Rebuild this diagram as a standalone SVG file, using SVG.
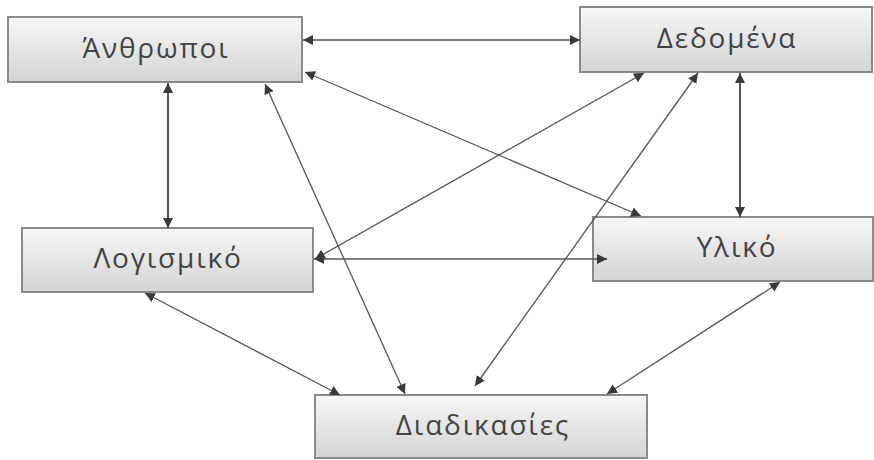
<svg xmlns="http://www.w3.org/2000/svg" width="874" height="460" viewBox="0 0 874 460">
<defs>
<linearGradient id="g" x1="0" y1="0" x2="0" y2="1">
<stop offset="0" stop-color="#f7f7f7"/>
<stop offset="1" stop-color="#d4d4d4"/>
</linearGradient>
<marker id="a" viewBox="0 0 10 10" refX="10" refY="5" markerWidth="10" markerHeight="10" markerUnits="userSpaceOnUse" orient="auto-start-reverse">
<path d="M0,0 L10,5 L0,10 z" fill="#3a3a3a"/>
</marker>
</defs>
<style>
.box{fill:url(#g);stroke:#8a8a8a;stroke-width:2}
.lbl{font-family:"Open Sans","DejaVu Sans",sans-serif;font-size:28px;fill:#444;text-anchor:middle;letter-spacing:1.8px}
.c{stroke:#555;stroke-width:1.3;fill:none;marker-start:url(#a);marker-end:url(#a)}
.v{stroke-width:2}
</style>
<rect width="874" height="460" fill="#fff"/>
<g id="n1"><rect class="box" x="8" y="17" width="294" height="65"/><text class="lbl" x="156" y="58">Άνθρωποι</text></g>
<g id="n2"><rect class="box" x="580" y="7" width="292" height="65"/><text class="lbl" x="727" y="48">Δεδομένα</text></g>
<g id="n3"><rect class="box" x="22" y="228" width="291" height="64"/><text class="lbl" x="168" y="268">Λογισμικό</text></g>
<g id="n4"><rect class="box" x="593" y="217" width="280" height="64"/><text class="lbl" x="737" y="257">Υλικό</text></g>
<g id="n5"><rect class="box" x="315" y="395" width="332" height="63"/><text class="lbl" x="483" y="435">Διαδικασίες</text></g>
<g id="connectors">
<line class="c" x1="303" y1="40" x2="580" y2="40"/>
<line class="c v" x1="168" y1="83" x2="168" y2="228"/>
<line class="c" x1="305" y1="72" x2="641" y2="216"/>
<line class="c" x1="265" y1="84" x2="405" y2="394"/>
<line class="c" x1="644" y1="73" x2="315" y2="259"/>
<line class="c" x1="698" y1="73" x2="475" y2="386"/>
<line class="c v" x1="740" y1="73" x2="740" y2="217"/>
<line class="c" x1="314" y1="259" x2="607" y2="259"/>
<line class="c" x1="145" y1="293" x2="340" y2="395"/>
<line class="c" x1="780" y1="282" x2="607" y2="394"/>
</g>
</svg>
